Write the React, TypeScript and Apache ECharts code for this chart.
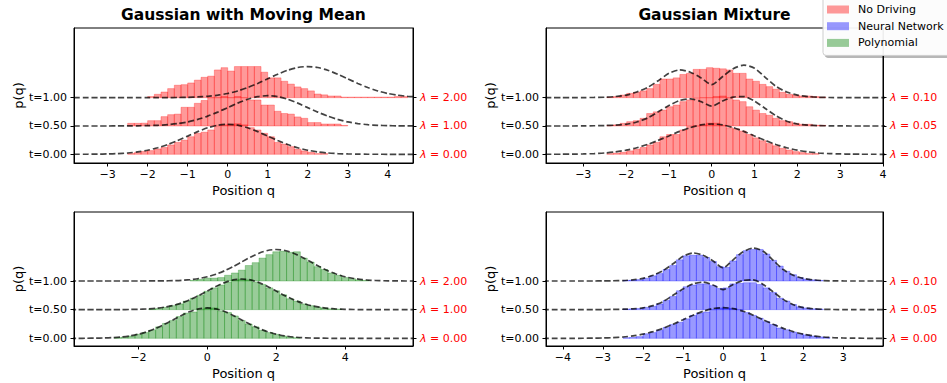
import React, { useEffect, useRef } from 'react';
import * as echarts from 'echarts';

// ---------- data ----------
const times = [0, 0.5, 1.0];
const mmLambdas = ['0.00', '1.00', '2.00'];
const mixLambdas = ['0.00', '0.05', '0.10'];

const tlTicks = [-3, -2, -1, 0, 1, 2, 3, 4];
const trTicks = [-3, -2, -1, 0, 1, 2, 3, 4];
const blTicks = [-2, 0, 2, 4];
const brTicks = [-4, -3, -2, -1, 0, 1, 2, 3];

// grid of positions for the dashed density curves
const curveQ = [-4.5, -4.25, -4, -3.75, -3.5, -3.25, -3, -2.75, -2.5, -2.25, -2, -1.75, -1.5, -1.25, -1, -0.75, -0.5, -0.25,
  0, 0.25, 0.5, 0.75, 1, 1.25, 1.5, 1.75, 2, 2.25, 2.5, 2.75, 3, 3.25, 3.5, 3.75, 4, 4.25, 4.5, 4.75, 5, 5.25, 5.5, 5.75, 6];

// moving mean target densities (lambda = 0, 1, 2)
const mmCurve0 = [0, 0, 0, 0.0005, 0.001, 0.003, 0.006, 0.012, 0.023, 0.042, 0.072, 0.115, 0.172, 0.243, 0.321, 0.4, 0.468, 0.514,
  0.53, 0.514, 0.468, 0.4, 0.321, 0.243, 0.172, 0.115, 0.072, 0.042, 0.023, 0.012, 0.006, 0.003, 0.001, 0.0005, 0, 0, 0, 0, 0, 0, 0, 0, 0];
const mmCurve1 = [0, 0, 0, 0, 0, 0, 0, 0.0005, 0.001, 0.003, 0.006, 0.012, 0.023, 0.043, 0.072, 0.116, 0.174, 0.245,
  0.324, 0.404, 0.472, 0.519, 0.535, 0.519, 0.472, 0.404, 0.324, 0.245, 0.174, 0.116, 0.072, 0.043, 0.023, 0.012, 0.006, 0.003, 0.001, 0.0005, 0, 0, 0, 0, 0];
const mmCurve2 = [0, 0, 0, 0, 0, 0, 0, 0, 0, 0, 0, 0.0005, 0.001, 0.003, 0.006, 0.0125, 0.024, 0.044,
  0.074, 0.119, 0.179, 0.252, 0.334, 0.415, 0.485, 0.533, 0.55, 0.533, 0.485, 0.415, 0.334, 0.252, 0.179, 0.119, 0.074, 0.044, 0.024, 0.0125, 0.006, 0.003, 0.001, 0.0005, 0];

// gaussian mixture target densities (lambda = 0, 0.05, 0.10)
const mixCurve0 = [0, 0, 0, 0.0005, 0.001, 0.003, 0.006, 0.012, 0.023, 0.042, 0.072, 0.116, 0.174, 0.245, 0.324, 0.404, 0.472, 0.519,
  0.535, 0.519, 0.472, 0.404, 0.324, 0.245, 0.174, 0.116, 0.072, 0.042, 0.023, 0.012, 0.006, 0.003, 0.001, 0.0005, 0, 0, 0, 0, 0, 0, 0, 0, 0];
const mixCurve05 = [0, 0, 0, 0, 0, 0, 0.002, 0.004, 0.008, 0.015, 0.03, 0.07, 0.14, 0.25, 0.36, 0.45, 0.48, 0.43,
  0.35, 0.44, 0.51, 0.52, 0.44, 0.31, 0.18, 0.085, 0.035, 0.015, 0.006, 0.003, 0.001, 0, 0, 0, 0, 0, 0, 0, 0, 0, 0, 0, 0];
const mixCurve10 = [0, 0, 0, 0, 0, 0, 0.002, 0.004, 0.008, 0.02, 0.045, 0.1, 0.18, 0.3, 0.43, 0.49, 0.45, 0.35,
  0.23, 0.37, 0.51, 0.575, 0.52, 0.36, 0.2, 0.1, 0.045, 0.02, 0.007, 0.003, 0.001, 0, 0, 0, 0, 0, 0, 0, 0, 0, 0, 0, 0];

// histograms: heights per bin, with first bin edge and bin width per panel
const tlBinWidth = 1 / 6;
const tlStarts = [-2.5, -2.5, -2.0];
const tlHist0 = [0.012, 0.03, 0.05, 0.065, 0.094, 0.12, 0.165, 0.21, 0.25, 0.31, 0.37, 0.39, 0.43, 0.49, 0.52, 0.53, 0.54, 0.52,
  0.47, 0.43, 0.37, 0.31, 0.21, 0.18, 0.135, 0.09, 0.06, 0.035, 0.012, 0.012];
const tlHist1 = [0.047, 0.047, 0.05, 0.094, 0.094, 0.165, 0.2, 0.21, 0.33, 0.33, 0.4, 0.45, 0.5, 0.5, 0.52, 0.5, 0.52, 0.5,
  0.46, 0.46, 0.37, 0.37, 0.26, 0.22, 0.21, 0.16, 0.135, 0.06, 0.06, 0.035, 0.035, 0.035, 0.01];
const tlHist2 = [0.02, 0.06, 0.1, 0.16, 0.22, 0.23, 0.26, 0.31, 0.36, 0.38, 0.49, 0.53, 0.47, 0.55, 0.55, 0.55, 0.55, 0.45,
  0.35, 0.35, 0.29, 0.24, 0.19, 0.16, 0.12, 0.065, 0.05, 0.03, 0.03, 0.01, 0.01, 0.01, 0.01, 0.01, 0.01, 0.01, 0.01, 0.02, 0.02];

const trBinWidth = 0.155;
const trStarts = [-2.45, -2.45, -2.45];
const trHist0 = [0.01, 0.02, 0.035, 0.06, 0.09, 0.12, 0.165, 0.21, 0.31, 0.35, 0.35, 0.43, 0.49, 0.5, 0.52, 0.55, 0.55, 0.51,
  0.47, 0.45, 0.41, 0.35, 0.29, 0.24, 0.19, 0.15, 0.105, 0.075, 0.047, 0.03, 0.012, 0.012];
const trHist1 = [0.01, 0.02, 0.047, 0.076, 0.094, 0.135, 0.22, 0.25, 0.28, 0.34, 0.37, 0.43, 0.46, 0.49, 0.5, 0.5, 0.52, 0.53,
  0.5, 0.46, 0.43, 0.34, 0.28, 0.22, 0.19, 0.135, 0.094, 0.076, 0.047, 0.03, 0.03, 0.012, 0.012];
const trHist2 = [0.01, 0.02, 0.047, 0.076, 0.094, 0.12, 0.16, 0.235, 0.33, 0.33, 0.35, 0.41, 0.43, 0.5, 0.5, 0.53, 0.52, 0.51,
  0.49, 0.43, 0.43, 0.33, 0.29, 0.235, 0.195, 0.15, 0.094, 0.06, 0.047, 0.03, 0.03, 0.02, 0.01];

const blBinWidth = 0.2;
const blStarts = [-2.7, -1.7, -0.5];
const blHist0 = [0.01, 0.02, 0.04, 0.07, 0.1, 0.14, 0.2, 0.26, 0.31, 0.38, 0.44, 0.46, 0.5, 0.53, 0.53, 0.48, 0.45, 0.39,
  0.31, 0.25, 0.2, 0.14, 0.1, 0.07, 0.04, 0.02, 0.01];
const blHist1 = [0.01, 0.02, 0.04, 0.07, 0.1, 0.15, 0.2, 0.25, 0.32, 0.38, 0.43, 0.48, 0.51, 0.53, 0.52, 0.48, 0.44, 0.38,
  0.33, 0.26, 0.19, 0.15, 0.1, 0.07, 0.045, 0.03, 0.015, 0.01];
const blHist2 = [0.01, 0.03, 0.05, 0.05, 0.06, 0.1, 0.14, 0.19, 0.27, 0.32, 0.4, 0.46, 0.51, 0.52, 0.5, 0.51, 0.4, 0.33,
  0.25, 0.2, 0.14, 0.1, 0.06, 0.04, 0.02, 0.01];

const brBinWidth = 1 / 6;
const brStarts = [-2.5, -2.5, -2.5];
const brHist0 = [0.01, 0.015, 0.03, 0.08, 0.1, 0.14, 0.19, 0.24, 0.28, 0.34, 0.4, 0.44, 0.46, 0.5, 0.53, 0.53, 0.52, 0.5,
  0.45, 0.4, 0.35, 0.29, 0.24, 0.18, 0.15, 0.11, 0.08, 0.06, 0.04, 0.025, 0.015];
const brHist1 = [0.01, 0.015, 0.02, 0.04, 0.06, 0.1, 0.16, 0.23, 0.33, 0.4, 0.43, 0.45, 0.45, 0.42, 0.37, 0.38, 0.45, 0.46,
  0.47, 0.47, 0.44, 0.38, 0.3, 0.2, 0.15, 0.09, 0.05, 0.03, 0.015, 0.01];
const brHist2 = [0.01, 0.015, 0.025, 0.05, 0.09, 0.13, 0.2, 0.27, 0.37, 0.44, 0.45, 0.45, 0.41, 0.34, 0.25, 0.24, 0.35, 0.46,
  0.53, 0.55, 0.55, 0.47, 0.36, 0.26, 0.17, 0.11, 0.06, 0.035, 0.02, 0.01];

// ---------- styling ----------
const FONT = 'DejaVu Sans, sans-serif';
const RED = 'rgba(255,0,0,0.4)';
const GREEN = 'rgba(0,128,0,0.4)';
const BLUE = 'rgba(0,0,255,0.4)';

const fmtMinus = (v: number) => (v < 0 ? '\u2212' + Math.abs(v) : String(v));

function buildOption() {
  const panels = [
    { left: 74, top: 28, width: 339, height: 135, xMin: -3.84, xMax: 4.63, yMin: -0.154, yMax: 2.231, ticks: tlTicks, lams: mmLambdas,
      curves: [mmCurve0, mmCurve1, mmCurve2], hists: [tlHist0, tlHist1, tlHist2], starts: tlStarts, binW: tlBinWidth, name: 'No Driving', fill: RED },
    { left: 546, top: 28, width: 337, height: 135, xMin: -3.87, xMax: 4.0, yMin: -0.154, yMax: 2.231, ticks: trTicks, lams: mixLambdas,
      curves: [mixCurve0, mixCurve05, mixCurve10], hists: [trHist0, trHist1, trHist2], starts: trStarts, binW: trBinWidth, name: 'No Driving', fill: RED },
    { left: 74, top: 212, width: 339, height: 134, xMin: -3.87, xMax: 5.97, yMin: -0.134, yMax: 2.204, ticks: blTicks, lams: mmLambdas,
      curves: [mmCurve0, mmCurve1, mmCurve2], hists: [blHist0, blHist1, blHist2], starts: blStarts, binW: blBinWidth, name: 'Polynomial', fill: GREEN },
    { left: 546, top: 212, width: 337, height: 134, xMin: -4.42, xMax: 3.99, yMin: -0.134, yMax: 2.204, ticks: brTicks, lams: mixLambdas,
      curves: [mixCurve0, mixCurve05, mixCurve10], hists: [brHist0, brHist1, brHist2], starts: brStarts, binW: brBinWidth, name: 'Neural Network', fill: BLUE },
  ];

  const grid: any[] = [];
  const xAxis: any[] = [];
  const yAxis: any[] = [];
  const series: any[] = [];
  const tickStyle = { color: '#000', width: 1 };

  panels.forEach((p, pi) => {
    grid.push({ left: p.left, top: p.top, width: p.width, height: p.height, show: true, borderColor: '#000', borderWidth: 1, backgroundColor: 'transparent' });
    xAxis.push({
      gridIndex: pi, type: 'value', min: p.xMin, max: p.xMax,
      axisLine: { show: true, onZero: false, lineStyle: tickStyle },
      axisTick: { show: true, customValues: p.ticks, length: 3.5, lineStyle: tickStyle },
      axisLabel: { show: true, customValues: p.ticks, formatter: fmtMinus, fontSize: 11, fontFamily: FONT, color: '#000', margin: 6 },
      splitLine: { show: false },
      name: 'Position q', nameLocation: 'middle', nameGap: 21,
      nameTextStyle: { fontSize: 13, fontFamily: FONT, color: '#000' },
    });
    yAxis.push({
      gridIndex: pi, type: 'value', position: 'left', min: p.yMin, max: p.yMax,
      axisLine: { show: true, onZero: false, lineStyle: tickStyle },
      axisTick: { show: true, customValues: times, length: 3.5, lineStyle: tickStyle },
      axisLabel: { show: true, customValues: times, formatter: (v: number) => 't=' + v.toFixed(2), fontSize: 11, fontFamily: FONT, color: '#000', margin: 7 },
      splitLine: { show: false },
      name: 'p(q)', nameLocation: 'middle', nameGap: 46, nameRotate: 90,
      nameTextStyle: { fontSize: 13, fontFamily: FONT, color: '#000' },
    });
    yAxis.push({
      gridIndex: pi, type: 'value', position: 'right', min: p.yMin, max: p.yMax,
      axisLine: { show: true, onZero: false, lineStyle: tickStyle },
      axisTick: { show: true, customValues: times, length: 3.5, lineStyle: tickStyle },
      axisLabel: {
        show: true, customValues: times, fontSize: 11, fontFamily: FONT, color: '#ff0000', margin: 7,
        formatter: (v: number) => {
          const i = times.findIndex((t) => Math.abs(t - v) < 1e-6);
          return '{it|\u03bb} = ' + (i >= 0 ? p.lams[i] : '');
        },
        rich: { it: { fontStyle: 'italic', fontFamily: FONT, fontSize: 11, color: '#ff0000' } },
      },
      splitLine: { show: false },
    });

    times.forEach((t, r) => {
      const start = p.starts[r];
      const data = p.hists[r].map((h, i) => [start + i * p.binW, start + (i + 1) * p.binW, t, h]);
      const fill = p.fill;
      series.push({
        type: 'custom', name: p.name, xAxisIndex: pi, yAxisIndex: 2 * pi, data, silent: true, z: 2,
        encode: { x: [0, 1], y: 2 },
        itemStyle: { color: fill },
        renderItem: (_params: any, api: any) => {
          const x0 = api.value(0), x1 = api.value(1), b = api.value(2), h = api.value(3);
          const a = api.coord([x0, b + h]);
          const c = api.coord([x1, b]);
          return {
            type: 'rect',
            shape: { x: a[0], y: a[1], width: c[0] - a[0], height: c[1] - a[1] },
            style: { fill, stroke: fill, lineWidth: 0.7 },
          };
        },
      });
    });
    times.forEach((t, r) => {
      const curve = p.curves[r];
      series.push({
        type: 'line', xAxisIndex: pi, yAxisIndex: 2 * pi, silent: true, z: 3,
        data: curveQ.map((q, i) => [q, t + curve[i]]),
        symbol: 'none', showSymbol: false, smooth: 0.25, clip: true,
        lineStyle: { color: 'rgba(0,0,0,0.74)', width: 1.7, type: [6, 2.8] },
      });
    });
  });

  const titleStyle = { fontSize: 15.5, fontWeight: 'bold', fontFamily: FONT, color: '#000' };
  return {
    animation: false,
    backgroundColor: '#ffffff',
    title: [
      { text: 'Gaussian with Moving Mean', left: 243.5, top: 7, textAlign: 'center', padding: 0, textStyle: titleStyle },
      { text: 'Gaussian Mixture', left: 714.5, top: 7, textAlign: 'center', padding: 0, textStyle: titleStyle },
    ],
    legend: {
      orient: 'vertical', left: 823, top: -3, padding: [6, 14, 6, 4],
      itemWidth: 22, itemHeight: 8, itemGap: 3.7, selectedMode: false,
      backgroundColor: 'rgba(255,255,255,0.92)', borderColor: '#cccccc', borderWidth: 1, borderRadius: 3,
      shadowColor: 'rgba(0,0,0,0.3)', shadowOffsetX: 2, shadowOffsetY: 2, shadowBlur: 0,
      textStyle: { fontSize: 11, fontFamily: FONT, color: '#000', lineHeight: 13, padding: [0, 0, 0, 4] },
      data: [
        { name: 'No Driving', icon: 'rect', itemStyle: { color: RED } },
        { name: 'Neural Network', icon: 'rect', itemStyle: { color: BLUE } },
        { name: 'Polynomial', icon: 'rect', itemStyle: { color: GREEN } },
      ],
    },
    grid, xAxis, yAxis, series,
  };
}

export default function App() {
  const ref = useRef<HTMLDivElement | null>(null);
  useEffect(() => {
    if (!ref.current) return;
    const chart = echarts.init(ref.current, null, { renderer: 'svg' });
    chart.setOption(buildOption() as any);
    return () => { chart.dispose(); };
  }, []);
  return <div ref={ref} style={{ position: 'absolute', left: 0, top: 0, width: 947, height: 383, background: '#ffffff' }} />;
}
